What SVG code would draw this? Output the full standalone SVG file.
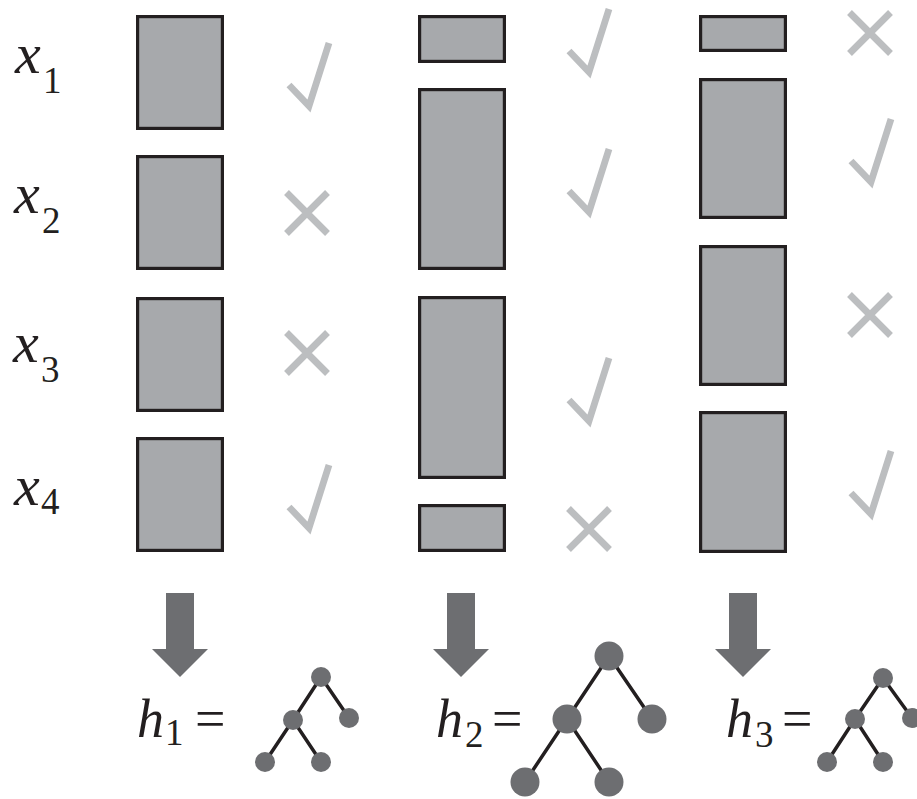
<svg xmlns="http://www.w3.org/2000/svg" width="917" height="799" viewBox="0 0 917 799">
<defs>
<style>
.bar{fill:#a7a9ac;stroke:#231f20;stroke-width:3.2}
.mk{fill:none;stroke:#bcbec0;stroke-width:6.8;stroke-linecap:butt;stroke-linejoin:miter;stroke-miterlimit:10}
.lbl{font-family:"Liberation Serif","Times New Roman",serif;fill:#231f20}
.it{font-style:italic}
.arr{fill:#6d6e71}
.edge{stroke:#231f20;stroke-width:3.5;fill:none}
.nd{fill:#6d6e71}
</style>
<path id="chk" d="M0,42 L20,63 L40,0"/>
<path id="crs" d="M-20.5,-20.5 L20.5,20.5 M-20.5,20.5 L20.5,-20.5"/>
</defs>
<rect width="917" height="799" fill="#ffffff"/>

<g id="labels">
<g id="lbl-x1" class="lbl"><text x="15" y="73" font-size="58"><tspan class="it">x</tspan><tspan x="43" y="93" font-size="37">1</tspan></text></g>
<g id="lbl-x2" class="lbl"><text x="14" y="213" font-size="58"><tspan class="it">x</tspan><tspan x="42" y="233" font-size="37">2</tspan></text></g>
<g id="lbl-x3" class="lbl"><text x="13" y="362" font-size="58"><tspan class="it">x</tspan><tspan x="41" y="382" font-size="37">3</tspan></text></g>
<g id="lbl-x4" class="lbl"><text x="14" y="505" font-size="58"><tspan class="it">x</tspan><tspan x="41" y="514" font-size="37">4</tspan></text></g>
</g>

<g id="col1">
<rect class="bar" x="137.6" y="16.6" width="84.8" height="111.8"/>
<rect class="bar" x="137.6" y="156.6" width="84.8" height="111.8"/>
<rect class="bar" x="137.6" y="298.6" width="84.8" height="111.8"/>
<rect class="bar" x="137.6" y="438.6" width="84.8" height="111.8"/>
<use href="#chk" class="mk" x="289" y="43"/>
<use href="#crs" class="mk" x="307" y="213"/>
<use href="#crs" class="mk" x="307" y="353"/>
<use href="#chk" class="mk" x="289" y="465"/>
</g>

<g id="col2">
<rect class="bar" x="419.6" y="16.6" width="84.8" height="44.8"/>
<rect class="bar" x="419.6" y="89.6" width="84.8" height="178.8"/>
<rect class="bar" x="419.6" y="297.6" width="84.8" height="179.8"/>
<rect class="bar" x="419.6" y="505.6" width="84.8" height="44.8"/>
<use href="#chk" class="mk" x="569" y="9"/>
<use href="#chk" class="mk" x="569" y="149"/>
<use href="#chk" class="mk" x="569" y="358"/>
<use href="#crs" class="mk" x="589" y="529"/>
</g>

<g id="col3">
<rect class="bar" x="700.6" y="16.6" width="84.8" height="33.8"/>
<rect class="bar" x="700.6" y="79.6" width="84.8" height="137.8"/>
<rect class="bar" x="700.6" y="246.6" width="84.8" height="137.8"/>
<rect class="bar" x="700.6" y="412.6" width="84.8" height="138.8"/>
<use href="#crs" class="mk" x="870" y="33"/>
<use href="#chk" class="mk" x="851" y="119"/>
<use href="#crs" class="mk" x="870" y="315"/>
<use href="#chk" class="mk" x="851" y="451"/>
</g>

<g id="connectors">
<path class="arr" d="M166,593 H194 V649 H208 L180,677 L152,649 H166 Z"/>
<path class="arr" d="M447,593 H475 V649 H489 L461,677 L433,649 H447 Z"/>
<path class="arr" d="M729,593 H757 V649 H771 L743,677 L715,649 H729 Z"/>
<path class="edge" d="M321,677 L293,720 L265,762 M293,720 L321,762 M321,677 L349,718"/>
<path class="edge" d="M609,656 L567,719 L525,782 M567,719 L609,782 M609,656 L652,719"/>
<path class="edge" d="M883,678 L855,719 L827,762 M855,719 L883,762 M883,678 L912,718"/>
</g>

<g id="h1">
<g class="lbl"><text x="137" y="737" font-size="54"><tspan class="it">h</tspan><tspan x="165" y="745" font-size="37">1</tspan><tspan x="195" y="737" font-size="54">=</tspan></text></g>
<g id="tree1">
<circle class="nd" cx="321" cy="677" r="10"/>
<circle class="nd" cx="293" cy="720" r="10"/>
<circle class="nd" cx="349" cy="718" r="10"/>
<circle class="nd" cx="265" cy="762" r="10"/>
<circle class="nd" cx="321" cy="762" r="10"/>
</g>
</g>

<g id="h2">
<g class="lbl"><text x="436" y="737" font-size="54"><tspan class="it">h</tspan><tspan x="465" y="747" font-size="37">2</tspan><tspan x="492" y="737" font-size="54">=</tspan></text></g>
<g id="tree2">
<circle class="nd" cx="609" cy="656" r="14.5"/>
<circle class="nd" cx="567" cy="719" r="14.5"/>
<circle class="nd" cx="652" cy="719" r="14.5"/>
<circle class="nd" cx="525" cy="782" r="14.5"/>
<circle class="nd" cx="609" cy="782" r="14.5"/>
</g>
</g>

<g id="h3">
<g class="lbl"><text x="726" y="737" font-size="54"><tspan class="it">h</tspan><tspan x="755" y="747" font-size="37">3</tspan><tspan x="782" y="737" font-size="54">=</tspan></text></g>
<g id="tree3">
<circle class="nd" cx="883" cy="678" r="10"/>
<circle class="nd" cx="855" cy="719" r="10"/>
<circle class="nd" cx="912" cy="718" r="10"/>
<circle class="nd" cx="827" cy="762" r="10"/>
<circle class="nd" cx="883" cy="762" r="10"/>
</g>
</g>
</svg>
